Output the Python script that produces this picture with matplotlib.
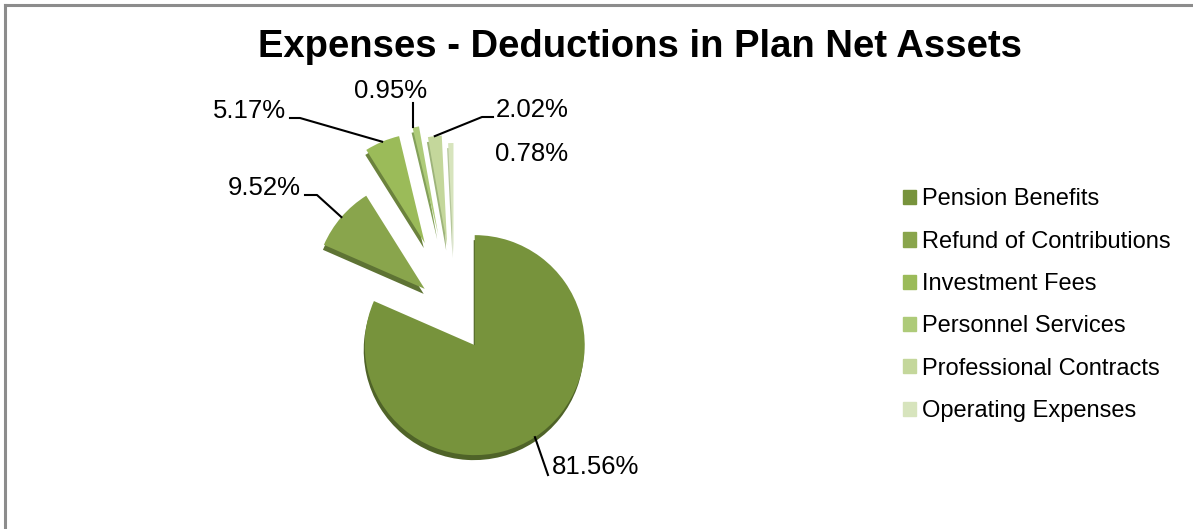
import matplotlib
matplotlib.use("Agg")
import matplotlib.pyplot as plt
import numpy as np

# ---- data ----
categories = ["Pension Benefits", "Refund of Contributions", "Investment Fees",
              "Personnel Services", "Professional Contracts", "Operating Expenses"]
shares = [81.56, 9.52, 5.17, 0.95, 2.02, 0.78]
title = "Expenses - Deductions in Plan Net Assets"

# ---- styles ----
colors = ["#77933C", "#89A54C", "#9BBB59", "#AECB79", "#C4D79B", "#D7E4BD"]
side_colors = ["#4F6328", "#5E7334", "#6B823D", "#83A05A", "#9DB37A", "#B5C69C"]
explode = [36, 40, 78, 82, 70, 62]   # in pixel units (radius = 110)

W, H = 1193, 529
plt.rcParams['font.family'] = ['Liberation Sans', 'DejaVu Sans']
fig = plt.figure(figsize=(W / 100, H / 100), dpi=100)
ax = fig.add_axes([0, 0, 1, 1])

cx, cy, R = 455, H - 315, 110

# 3D side (darker pie shifted down)
ax.pie(shares, explode=explode, colors=side_colors, startangle=90,
       counterclock=False, center=(cx - 1, cy - 5), radius=R,
       wedgeprops=dict(linewidth=0), frame=True)
wedges, _ = ax.pie(shares, explode=explode, colors=colors, startangle=90,
                   counterclock=False, center=(cx, cy), radius=R,
                   wedgeprops=dict(linewidth=0), frame=True)

ax.set_xlim(0, W)
ax.set_ylim(0, H)
ax.set_aspect('auto')
ax.axis('off')


def arc_mid(w):
    t = np.deg2rad((w.theta1 + w.theta2) / 2)
    return w.center[0] + w.r * np.cos(t), w.center[1] + w.r * np.sin(t)


def Y(y):
    return H - y


fs = 18.5
lw = 1.5
lab = [f"{v:.2f}%" for v in shares]

# 81.56%
mx, my = arc_mid(wedges[0])
ax.plot([mx, 548], [my, Y(475)], color="black", lw=lw)
ax.text(552, Y(467), lab[0], fontsize=fs, ha="left", va="center")
# 9.52%
mx, my = arc_mid(wedges[1])
ax.plot([305, 317, mx], [Y(195), Y(195), my], color="black", lw=lw)
ax.text(301, Y(188), lab[1], fontsize=fs, ha="right", va="center")
# 5.17%
mx, my = arc_mid(wedges[2])
ax.plot([290, 300, mx], [Y(118), Y(118), my], color="black", lw=lw)
ax.text(286, Y(111), lab[2], fontsize=fs, ha="right", va="center")
# 0.95%
mx, my = arc_mid(wedges[3])
ax.plot([413, 413], [Y(103), my], color="black", lw=lw)
ax.text(391, Y(91), lab[3], fontsize=fs, ha="center", va="center")
# 2.02%
mx, my = arc_mid(wedges[4])
ax.plot([493, 482, mx], [Y(117), Y(117), my], color="black", lw=lw)
ax.text(496, Y(110), lab[4], fontsize=fs, ha="left", va="center")
# 0.78%
ax.text(495, Y(154), lab[5], fontsize=fs, ha="left", va="center")

# title
ax.text(640, Y(47), title, fontsize=27.5, fontweight="bold", ha="center", va="center")

# legend
handles = [plt.Rectangle((0, 0), 1, 1, color=c) for c in colors]
fig.legend(handles, categories, loc="upper left", bbox_to_anchor=(894 / W, 1 - 179 / H),
           frameon=False, fontsize=17, handlelength=0.55, handleheight=0.55,
           handletextpad=0.25, labelspacing=0.86, borderaxespad=0)

# border
ax.plot([5, W], [Y(5), Y(5)], color="#8C8C8C", lw=2.2, clip_on=False)
ax.plot([5, 5], [Y(5), 0], color="#8C8C8C", lw=2.2, clip_on=False)

fig.savefig("out.png", dpi=100, facecolor="white")
